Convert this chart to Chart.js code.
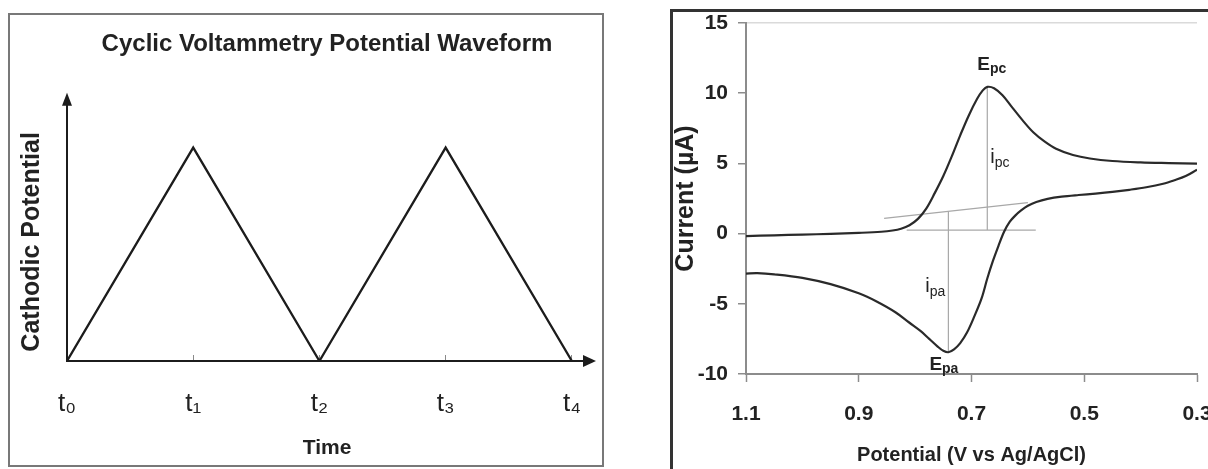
<!DOCTYPE html>
<html>
<head>
<meta charset="utf-8">
<script src="https://cdn.jsdelivr.net/npm/chart.js@4.4.1/dist/chart.umd.min.js"></script>
<style>
  html, body { margin: 0; padding: 0; background: #fff; }
  body { width: 1208px; height: 469px; position: relative; overflow: hidden; }
  .frame { position: absolute; box-sizing: border-box; }
  #waveFrame { left: 8px; top: 13px; width: 596px; height: 454px; border: 2px solid #787878; }
  #cvFrame { left: 670px; top: 9px; width: 620px; height: 520px; border: 3px solid #333; }
  canvas { position: absolute; top: 0; }
  #wave { left: 0; }
  #cv { left: 640px; }
</style>
</head>
<body>
<div class="frame" id="waveFrame"></div>
<div class="frame" id="cvFrame"></div>
<canvas id="wave" width="606" height="469"></canvas>
<canvas id="cv" width="568" height="469"></canvas>
<script>
// ---- Potential waveform: two up/down linear sweeps ----
const sweepTimes = [0, 1, 2, 3, 4];
const sweepPotential = [0, 1, 0, 1, 0];
const timeLabels = ['t\u2080', 't\u2081', 't\u2082', 't\u2083', 't\u2084'];

// ---- Cyclic voltammogram ----
// forward scan, 1.1 V -> 0.3 V
const forwardPotential = [1.10, 1.05, 1.00, 0.95, 0.90, 0.86, 0.84, 0.825, 0.81, 0.795, 0.78, 0.765,
  0.75, 0.735, 0.72, 0.705, 0.69, 0.68, 0.672, 0.66, 0.645, 0.63, 0.61, 0.59, 0.57, 0.55, 0.52,
  0.49, 0.45, 0.40, 0.35, 0.30];
const forwardCurrent = [-0.18, -0.12, -0.07, -0.02, 0.05, 0.13, 0.22, 0.35, 0.6, 1.05, 1.8, 2.9,
  4.1, 5.5, 7.0, 8.4, 9.6, 10.2, 10.45, 10.35, 9.85, 9.1, 8.1, 7.2, 6.55, 6.05, 5.6,
  5.35, 5.17, 5.07, 5.02, 4.98];
// reverse scan, 0.3 V -> 1.1 V
const reversePotential = [0.30, 0.32, 0.34, 0.36, 0.39, 0.42, 0.45, 0.48, 0.51, 0.54, 0.565, 0.585,
  0.60, 0.612, 0.622, 0.632, 0.642, 0.652, 0.662, 0.672, 0.682, 0.695, 0.708, 0.72, 0.731, 0.741,
  0.75, 0.76, 0.775, 0.79, 0.81, 0.835, 0.87, 0.90, 0.95, 1.00, 1.05, 1.08, 1.10];
const reverseCurrent = [4.55, 4.1, 3.8, 3.55, 3.3, 3.12, 2.97, 2.85, 2.75, 2.63, 2.47, 2.25,
  1.98, 1.65, 1.3, 0.85, 0.15, -0.85, -1.95, -3.2, -4.6, -5.9, -7.05, -7.8, -8.25, -8.45,
  -8.35, -8.05, -7.5, -6.95, -6.35, -5.6, -4.8, -4.25, -3.6, -3.15, -2.9, -2.82, -2.85];

// baselines used to read the peak currents
const cathodicBasePotential = [0.815, 0.586];
const cathodicBaseCurrent = [0.25, 0.25];
const anodicBasePotential = [0.855, 0.60];
const anodicBaseCurrent = [1.09, 2.2];

// peaks: [cathodic, anodic]
const peakPotential = [0.672, 0.741];
const peakCurrent = [10.45, -8.45];
const peakBaseCurrent = [0.25, 1.59];

const potentialTicks = [1.1, 0.9, 0.7, 0.5, 0.3];
const currentTicks = [-10, -5, 0, 5, 10, 15];

const FONT = "'Liberation Sans', Arial, Helvetica, sans-serif";
Chart.defaults.font.family = FONT;
Chart.defaults.color = '#222';

const pairs = (xs, ys) => xs.map((v, i) => ({ x: v, y: ys[i] }));

// keep the plotting area fixed: no extra room reserved for end labels
const fixHeight = h => s => { s.height = h; s.paddingLeft = 0; s.paddingRight = 0; };
const fixWidth = w => s => { s.width = w; s.paddingTop = 0; s.paddingBottom = 0; };

// Arrow heads at the ends of both axes of the waveform plot
const axisArrows = {
  id: 'axisArrows',
  afterDraw(chart) {
    const { ctx, chartArea: a } = chart;
    const yTip = a.top - 30, xTip = a.right + 9;
    ctx.save();
    ctx.strokeStyle = ctx.fillStyle = '#1c1c1c';
    ctx.lineWidth = 2;
    ctx.beginPath();
    ctx.moveTo(a.left, a.top + 1); ctx.lineTo(a.left, yTip + 6);
    ctx.moveTo(a.right - 1, a.bottom); ctx.lineTo(xTip - 6, a.bottom);
    ctx.stroke();
    ctx.beginPath();
    ctx.moveTo(a.left, yTip); ctx.lineTo(a.left - 5, yTip + 13); ctx.lineTo(a.left + 5, yTip + 13);
    ctx.closePath(); ctx.fill();
    ctx.beginPath();
    ctx.moveTo(xTip, a.bottom); ctx.lineTo(xTip - 13, a.bottom - 6); ctx.lineTo(xTip - 13, a.bottom + 6);
    ctx.closePath(); ctx.fill();
    ctx.restore();
  }
};

new Chart(document.getElementById('wave'), {
  type: 'line',
  data: {
    datasets: [{
      data: pairs(sweepTimes, sweepPotential),
      borderColor: '#1c1c1c', borderWidth: 2.3, pointRadius: 0, tension: 0, fill: false
    }]
  },
  options: {
    responsive: false, animation: false, events: [],
    layout: { padding: { left: 0, right: 19, top: 0, bottom: 0 } },
    plugins: {
      legend: { display: false }, tooltip: { enabled: false },
      title: {
        display: true, text: 'Cyclic Voltammetry Potential Waveform', fullSize: false,
        color: '#222', font: { size: 24, weight: 'bold' }, padding: { top: 30, bottom: 64 }
      }
    },
    scales: {
      x: {
        type: 'linear', min: 0, max: 4.12,
        afterBuildTicks: s => { s.ticks = sweepTimes.map(v => ({ value: v })); },
        ticks: {
          callback: v => timeLabels[sweepTimes.indexOf(v)],
          color: '#222', font: { size: 26 }, padding: 33, maxRotation: 0, autoSkip: false
        },
        grid: { display: true, drawOnChartArea: false, drawTicks: true, tickLength: -6, tickColor: '#8a8a8a', tickWidth: 1 },
        border: { display: true, color: '#1c1c1c', width: 2 },
        title: { display: true, text: 'Time', color: '#222', font: { size: 21, weight: 'bold' }, padding: { top: 0, bottom: 8 } },
        afterFit: fixHeight(108)
      },
      y: {
        min: 0, max: 1.116,
        ticks: { display: false },
        grid: { display: false },
        border: { display: true, color: '#1c1c1c', width: 2 },
        title: { display: true, text: 'Cathodic Potential', color: '#222', font: { size: 25, weight: 'bold' }, padding: { top: 17, bottom: 0 } },
        afterFit: fixWidth(67)
      }
    }
  },
  plugins: [axisArrows]
});

// Peak labels (E_pc, i_pc, i_pa, E_pa) placed from the peak values
function drawSubscripted(ctx, main, sub, x, y, mainFont, subFont, drop, align) {
  ctx.font = mainFont; const w1 = ctx.measureText(main).width;
  ctx.font = subFont; const w2 = ctx.measureText(sub).width;
  const x0 = align === 'right' ? x - w1 - w2 : x;
  ctx.textAlign = 'left'; ctx.textBaseline = 'alphabetic';
  ctx.font = mainFont; ctx.fillText(main, x0, y);
  ctx.font = subFont; ctx.fillText(sub, x0 + w1, y + drop);
}

const peakLabels = {
  id: 'peakLabels',
  afterDatasetsDraw(chart) {
    const { ctx, scales: { x, y } } = chart;
    const cX = x.getPixelForValue(peakPotential[0]), cY = y.getPixelForValue(peakCurrent[0]);
    const cB = y.getPixelForValue(peakBaseCurrent[0]);
    const aX = x.getPixelForValue(peakPotential[1]), aY = y.getPixelForValue(peakCurrent[1]);
    const aB = y.getPixelForValue(peakBaseCurrent[1]);
    const eFont = 'bold 19px ' + FONT, eSub = 'bold 14px ' + FONT;
    const iFont = '20px ' + FONT, iSub = '14px ' + FONT;
    ctx.save();
    ctx.fillStyle = '#222';
    drawSubscripted(ctx, 'E', 'pc', cX - 10, cY - 17, eFont, eSub, 3, 'left');
    drawSubscripted(ctx, 'i', 'pc', cX + 3, (cY + cB) / 2 + 5, iFont, iSub, 4, 'left');
    drawSubscripted(ctx, 'i', 'pa', aX - 3, (aY + aB) / 2 + 10, iFont, iSub, 4, 'right');
    drawSubscripted(ctx, 'E', 'pa', aX - 19, aY + 18, eFont, eSub, 3, 'left');
    ctx.restore();
  }
};

const helperLine = { borderColor: '#a8a8a8', borderWidth: 1.2, tension: 0, pointRadius: 0, order: 1 };
const scanLine = { borderColor: '#2a2a2a', borderWidth: 2.2, tension: 0.35, pointRadius: 0, order: 0 };

new Chart(document.getElementById('cv'), {
  type: 'line',
  data: {
    datasets: [
      Object.assign({ data: pairs(forwardPotential, forwardCurrent) }, scanLine),
      Object.assign({ data: pairs(reversePotential, reverseCurrent) }, scanLine),
      Object.assign({ data: pairs(cathodicBasePotential, cathodicBaseCurrent) }, helperLine),
      Object.assign({ data: pairs(anodicBasePotential, anodicBaseCurrent) }, helperLine),
      Object.assign({ data: pairs([peakPotential[0], peakPotential[0]], [peakCurrent[0], peakBaseCurrent[0]]) }, helperLine),
      Object.assign({ data: pairs([peakPotential[1], peakPotential[1]], [peakCurrent[1], peakBaseCurrent[1]]) }, helperLine)
    ]
  },
  options: {
    responsive: false, animation: false, events: [],
    layout: { padding: { left: 0, top: 23, right: 11, bottom: 0 } },
    plugins: { legend: { display: false }, tooltip: { enabled: false } },
    scales: {
      x: {
        type: 'linear', reverse: true, min: 0.3, max: 1.1,
        afterBuildTicks: s => { s.ticks = potentialTicks.map(v => ({ value: v })); },
        ticks: { callback: v => v.toFixed(1), color: '#222', font: { size: 21, weight: 'bold' }, padding: 20, maxRotation: 0, autoSkip: false },
        grid: { drawOnChartArea: false, drawTicks: true, tickLength: 8, tickColor: '#8c8c8c', tickWidth: 1.5 },
        border: { color: '#8c8c8c', width: 2 },
        title: { display: true, text: 'Potential (V vs Ag/AgCl)', color: '#222', font: { size: 20, weight: 'bold' }, padding: { top: 0, bottom: 1.5 } },
        afterFit: fixHeight(95)
      },
      y: {
        min: -10, max: 15,
        afterBuildTicks: s => { s.ticks = currentTicks.map(v => ({ value: v })); },
        ticks: { callback: v => String(v), color: '#222', font: { size: 21, weight: 'bold' }, padding: 10 },
        grid: {
          drawTicks: true, tickLength: 8, tickColor: '#8c8c8c', tickWidth: 1.5, lineWidth: 1.5,
          color: c => (c.tick && c.tick.value === currentTicks[currentTicks.length - 1]) ? '#dadada' : 'rgba(0,0,0,0)'
        },
        border: { color: '#8c8c8c', width: 2 },
        title: { display: true, text: 'Current (\u00b5A)', color: '#222', font: { size: 25, weight: 'bold' }, padding: { top: 31, bottom: 0 } },
        afterFit: fixWidth(106)
      }
    }
  },
  plugins: [peakLabels]
});
</script>
</body>
</html>
